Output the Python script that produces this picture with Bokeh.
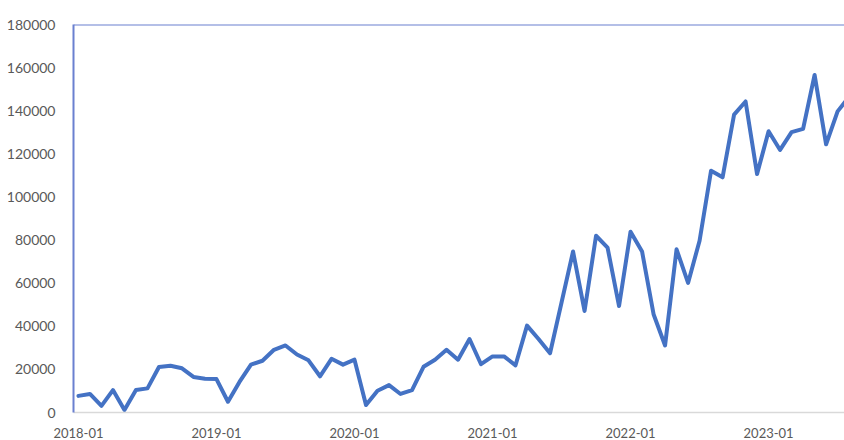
from bokeh.plotting import figure
from bokeh.models import Range1d, FixedTicker, Span, BasicTickFormatter
from bokeh.embed import file_html
from bokeh.resources import INLINE

# Monthly categories (2018-01 ... 2023-08)
months = [
    "2018-01", "2018-02", "2018-03", "2018-04", "2018-05", "2018-06",
    "2018-07", "2018-08", "2018-09", "2018-10", "2018-11", "2018-12",
    "2019-01", "2019-02", "2019-03", "2019-04", "2019-05", "2019-06",
    "2019-07", "2019-08", "2019-09", "2019-10", "2019-11", "2019-12",
    "2020-01", "2020-02", "2020-03", "2020-04", "2020-05", "2020-06",
    "2020-07", "2020-08", "2020-09", "2020-10", "2020-11", "2020-12",
    "2021-01", "2021-02", "2021-03", "2021-04", "2021-05", "2021-06",
    "2021-07", "2021-08", "2021-09", "2021-10", "2021-11", "2021-12",
    "2022-01", "2022-02", "2022-03", "2022-04", "2022-05", "2022-06",
    "2022-07", "2022-08", "2022-09", "2022-10", "2022-11", "2022-12",
    "2023-01", "2023-02", "2023-03", "2023-04", "2023-05", "2023-06",
    "2023-07", "2023-08",
]

values = [
    7700, 8600, 3100, 10400, 1200, 10400, 11200, 21100, 21700, 20500, 16500, 15700,
    15500, 5000, 14200, 22200, 24000, 29100, 31100, 26900, 24200, 16800, 24900, 22200,
    24500, 3500, 10100, 12700, 8600, 10400, 21200, 24500, 29100, 24500, 34100, 22400,
    26000, 26000, 21900, 40300, 34100, 27500, 51000, 74700, 47100, 82000, 76500, 49400,
    83900, 74700, 45600, 31100, 75700, 60100, 79700, 112200, 109100, 138200, 144300, 110600,
    130500, 121800, 130100, 131600, 156600, 124400, 139700, 146500,
]

tick_labels = ["2018-01", "2019-01", "2020-01", "2021-01", "2022-01", "2023-01"]
y_ticks = [0, 20000, 40000, 60000, 80000, 100000, 120000, 140000, 160000, 180000]

x = list(range(len(values)))
tick_pos = [months.index(t) for t in tick_labels]

p = figure(
    width=844, height=440,
    x_range=Range1d(-0.43, 66.6), y_range=Range1d(0, 180000),
    output_backend="svg", toolbar_location=None,
    min_border_left=73, min_border_right=0, min_border_top=24, min_border_bottom=24,
)
p.background_fill_color = "white"
p.border_fill_color = "white"
p.outline_line_color = None
p.xgrid.grid_line_color = None
p.ygrid.grid_line_color = None

p.line(x, values, line_color="#4472C4", line_width=4, line_join="round", line_cap="round")

axis_blue = "#6a80d0"
label_gray = "#595959"

# y axis
p.yaxis.ticker = FixedTicker(ticks=y_ticks)
p.yaxis.formatter = BasicTickFormatter(use_scientific=False)
p.yaxis.axis_line_color = axis_blue
p.yaxis.axis_line_width = 2
p.yaxis.major_tick_line_color = None
p.yaxis.minor_tick_line_color = None
p.yaxis.major_label_text_font = "Lato"
p.yaxis.major_label_text_font_size = "14px"
p.yaxis.major_label_text_color = label_gray
p.yaxis.major_label_standoff = 12

# x axis
p.xaxis.ticker = FixedTicker(ticks=tick_pos)
p.xaxis.major_label_overrides = {pos: lab for pos, lab in zip(tick_pos, tick_labels)}
p.xaxis.axis_line_color = "#d9d9d9"
p.xaxis.axis_line_width = 1.5
p.xaxis.major_tick_line_color = None
p.xaxis.minor_tick_line_color = None
p.xaxis.major_label_text_font = "Lato"
p.xaxis.major_label_text_font_size = "13px"
p.xaxis.major_label_text_color = label_gray
p.xaxis.major_label_standoff = 9

# top border line
p.add_layout(Span(location=180000, dimension="width", line_color=axis_blue, line_width=2))

open("out.html", "w").write(file_html(p, INLINE))
